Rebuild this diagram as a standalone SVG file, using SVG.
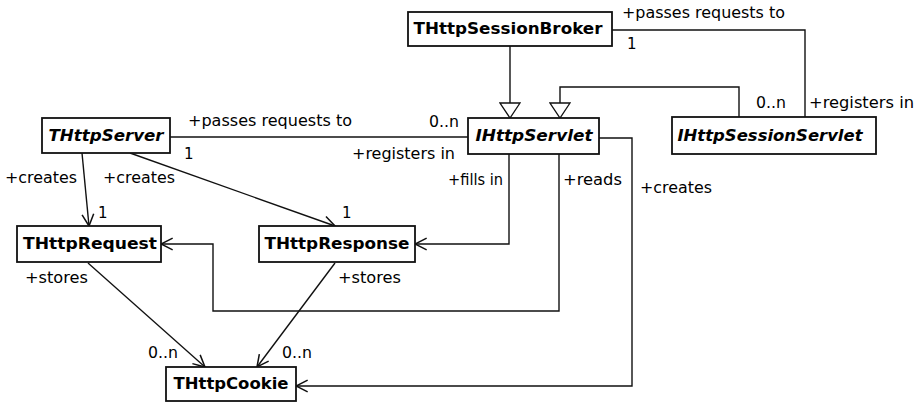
<svg xmlns="http://www.w3.org/2000/svg" width="920" height="404" viewBox="0 0 920 404">
<style>
.box{fill:#fff;stroke:#111;stroke-width:1.8}
.t{font-family:"DejaVu Sans",sans-serif;font-size:15px;font-weight:bold;fill:#000;text-anchor:middle}
.i{font-style:italic}
.l{font-family:"DejaVu Sans",sans-serif;font-size:15px;fill:#000}
.c{fill:none;stroke:#111;stroke-width:1.4}
</style>
<defs>
<marker id="open" markerUnits="userSpaceOnUse" markerWidth="14" markerHeight="14" viewBox="0 0 12 12" refX="11" refY="6" orient="auto">
<path d="M1,1 L11,6 L1,11" fill="none" stroke="#111" stroke-width="1.3"/>
</marker>
<marker id="gen" markerUnits="userSpaceOnUse" markerWidth="22" markerHeight="22" viewBox="0 0 22 22" refX="20" refY="11" orient="auto">
<path d="M5,1 L20,11 L5,21 Z" fill="#fff" stroke="#111" stroke-width="1.3"/>
</marker>
</defs>
<g id="connectors">
<path class="c" d="M510,46 V118" marker-end="url(#gen)"/>
<path class="c" d="M739,117 V87 H560 V118" marker-end="url(#gen)"/>
<path class="c" d="M612,30 H805 V117"/>
<path class="c" d="M170,137 H468"/>
<path class="c" d="M82,153 L89,226" marker-end="url(#open)"/>
<path class="c" d="M130,153 L335,226" marker-end="url(#open)"/>
<path class="c" d="M509,154 V244 H415" marker-end="url(#open)"/>
<path class="c" d="M559,154 V311 H213 V244 H161" marker-end="url(#open)"/>
<path class="c" d="M599,138 H632 V386 H296" marker-end="url(#open)"/>
<path class="c" d="M88,263 L205,367" marker-end="url(#open)"/>
<path class="c" d="M335,263 L257,367" marker-end="url(#open)"/>
</g>
<g id="labels">
<text class="l" x="622" y="18" textLength="163" lengthAdjust="spacingAndGlyphs">+passes requests to</text>
<text class="l" x="627" y="49">1</text>
<text class="l" x="756" y="108" textLength="30" lengthAdjust="spacingAndGlyphs">0..n</text>
<text class="l" x="809" y="108" textLength="105" lengthAdjust="spacingAndGlyphs">+registers in</text>
<text class="l" x="188" y="126" textLength="164" lengthAdjust="spacingAndGlyphs">+passes requests to</text>
<text class="l" x="429" y="127" textLength="30" lengthAdjust="spacingAndGlyphs">0..n</text>
<text class="l" x="184" y="159">1</text>
<text class="l" x="352" y="159" textLength="103" lengthAdjust="spacingAndGlyphs">+registers in</text>
<text class="l" x="5" y="183" textLength="72" lengthAdjust="spacingAndGlyphs">+creates</text>
<text class="l" x="103" y="183" textLength="72" lengthAdjust="spacingAndGlyphs">+creates</text>
<text class="l" x="98" y="218">1</text>
<text class="l" x="342" y="218">1</text>
<text class="l" x="448" y="185" textLength="55" lengthAdjust="spacingAndGlyphs">+fills in</text>
<text class="l" x="563" y="185" textLength="59" lengthAdjust="spacingAndGlyphs">+reads</text>
<text class="l" x="640" y="193" textLength="72" lengthAdjust="spacingAndGlyphs">+creates</text>
<text class="l" x="25" y="283" textLength="63" lengthAdjust="spacingAndGlyphs">+stores</text>
<text class="l" x="338" y="283" textLength="63" lengthAdjust="spacingAndGlyphs">+stores</text>
<text class="l" x="148" y="358" textLength="30" lengthAdjust="spacingAndGlyphs">0..n</text>
<text class="l" x="282" y="358" textLength="30" lengthAdjust="spacingAndGlyphs">0..n</text>
</g>
<g id="THttpSessionBroker"><rect class="box" x="408" y="12" width="204" height="34"/><text class="t" x="508" y="34" textLength="189" lengthAdjust="spacingAndGlyphs">THttpSessionBroker</text></g>
<g id="IHttpServlet"><rect class="box" x="468" y="118" width="131" height="36"/><text class="t i" x="534" y="141" textLength="117" lengthAdjust="spacingAndGlyphs">IHttpServlet</text></g>
<g id="IHttpSessionServlet"><rect class="box" x="672" y="117" width="204" height="37"/><text class="t i" x="770" y="141" textLength="185" lengthAdjust="spacingAndGlyphs">IHttpSessionServlet</text></g>
<g id="THttpServer"><rect class="box" x="42" y="118" width="128" height="35"/><text class="t i" x="106" y="141" textLength="115" lengthAdjust="spacingAndGlyphs">THttpServer</text></g>
<g id="THttpRequest"><rect class="box" x="17" y="226" width="144" height="36"/><text class="t" x="90" y="249" textLength="134" lengthAdjust="spacingAndGlyphs">THttpRequest</text></g>
<g id="THttpResponse"><rect class="box" x="259" y="226" width="156" height="36"/><text class="t" x="337" y="249" textLength="145" lengthAdjust="spacingAndGlyphs">THttpResponse</text></g>
<g id="THttpCookie"><rect class="box" x="166" y="367" width="130" height="34"/><text class="t" x="231" y="389" textLength="115" lengthAdjust="spacingAndGlyphs">THttpCookie</text></g>
</svg>
